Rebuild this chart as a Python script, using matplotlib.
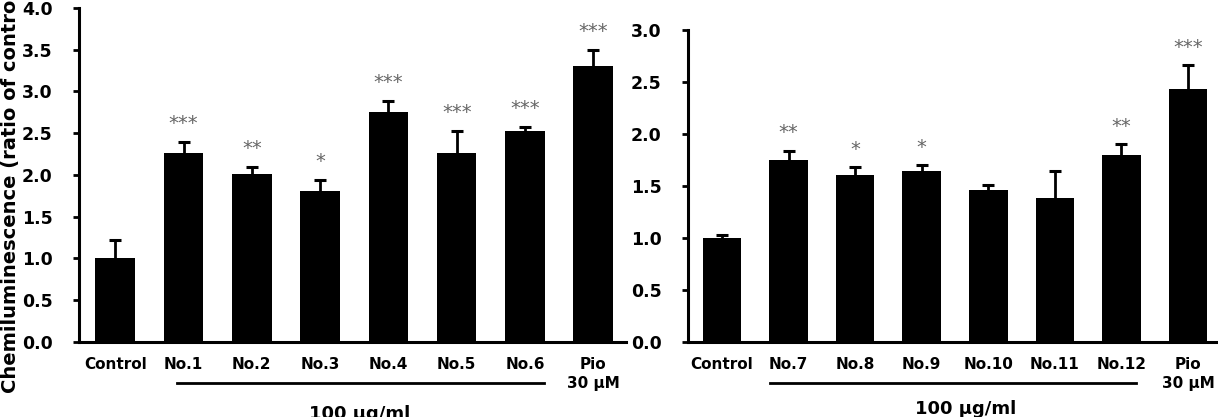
import matplotlib.pyplot as plt
import numpy as np

# data
labels_a = ['Control', 'No.1', 'No.2', 'No.3', 'No.4', 'No.5', 'No.6', 'Pio\n30 μM']
mean_a = [1.00, 2.26, 2.01, 1.81, 2.76, 2.26, 2.53, 3.31]
err_a = [0.22, 0.14, 0.09, 0.13, 0.13, 0.27, 0.05, 0.19]
stars_a = ['', '***', '**', '*', '***', '***', '***', '***']

labels_b = ['Control', 'No.7', 'No.8', 'No.9', 'No.10', 'No.11', 'No.12', 'Pio\n30 μM']
mean_b = [1.00, 1.75, 1.61, 1.64, 1.46, 1.38, 1.80, 2.43]
err_b = [0.03, 0.09, 0.07, 0.06, 0.05, 0.26, 0.10, 0.23]
stars_b = ['', '**', '*', '*', '', '', '**', '***']

plt.rcParams['font.family'] = 'DejaVu Sans'
plt.rcParams['font.weight'] = 'bold'

fig = plt.figure(figsize=(12.18, 4.17), dpi=100)
ax1 = fig.add_axes([0.0649, 0.1799, 0.4491, 0.8010])
ax2 = fig.add_axes([0.5649, 0.1799, 0.4351, 0.7482])


def draw(ax, labels, mean, err, stars, ymax, xlim, line_x, line_y):
    x = np.arange(len(labels))
    ax.bar(x, mean, width=0.58, color='black', zorder=3)
    # upper error bars only: stem + cap
    ax.vlines(x, mean, np.add(mean, err), color='black', lw=2, zorder=2)
    ax.plot(x, np.add(mean, err), linestyle='none', marker='_', markersize=9,
            markeredgewidth=2.2, color='black', zorder=2)
    for xi, m, e, s in zip(x, mean, err, stars):
        if s:
            ax.annotate(s, (xi, m + e), xytext=(0, 9), textcoords='offset points',
                        ha='center', va='baseline', fontsize=14, color='#666666',
                        fontweight='normal')
    ax.set_xlim(*xlim)
    ax.set_ylim(0, ymax)
    ax.set_yticks(np.arange(0, ymax + 0.01, 0.5))
    ax.set_yticklabels(['%.1f' % v for v in np.arange(0, ymax + 0.01, 0.5)])
    ax.set_xticks(x)
    ax.set_xticklabels(labels, linespacing=1.35)
    ax.tick_params(axis='x', length=0, pad=11, labelsize=11)
    ax.tick_params(axis='y', length=4, width=2, pad=15, labelsize=12.5)
    for side in ['top', 'right']:
        ax.spines[side].set_visible(False)
    for side in ['left', 'bottom']:
        ax.spines[side].set_linewidth(2.2)
        ax.spines[side].set_zorder(4)
    ax.plot(line_x, [line_y, line_y], color='black', lw=2,
            transform=ax.get_xaxis_transform(), clip_on=False)


draw(ax1, labels_a, mean_a, err_a, stars_a, 4.0, (-0.53, 7.48), [0.91, 6.28], -0.1228)
draw(ax2, labels_b, mean_b, err_b, stars_b, 3.0, (-0.51, 7.45), [0.72, 6.22], -0.1314)

fig.text(0.0005, 0.549, 'Chemiluminescence (ratio of control)', rotation=90,
         ha='left', va='center', fontsize=14)
fig.text(0.2956, 0.029, '100 μg/ml', ha='center', va='top', fontsize=13)
fig.text(0.793, 0.041, '100 μg/ml', ha='center', va='top', fontsize=13)

plt.savefig('out.png', dpi=100)
